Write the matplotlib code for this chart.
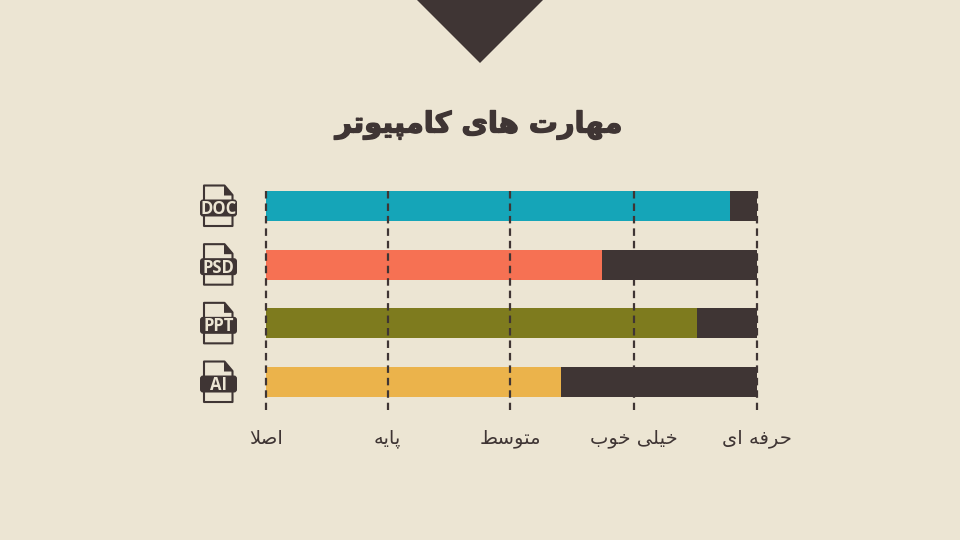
import matplotlib
matplotlib.use("Agg")
import matplotlib.pyplot as plt
import matplotlib.patheffects as pe
from matplotlib.patches import Polygon, FancyBboxPatch

# data
file_types = ["DOC", "PSD", "PPT", "AI"]
skill_values = [3.78, 2.74, 3.51, 2.40]
max_level = 4
level_ticks = [0, 0.99, 1.99, 2.995, 4]
level_names = ["اصلا", "پایه", "متوسط", "خیلی خوب", "حرفه ای"]
title_text = "مهارت های کامپیوتر"

# colors
bg = "#ECE5D3"
dark = "#3F3534"
bar_colors = ["#15A5B8", "#F67153", "#7E7B1E", "#EBB34B"]

# matplotlib does not join arabic letters, so pick the forms by hand
# letter: (isolated, final, initial, medial)
forms = {
    "ا": ("\uFE8D", "\uFE8E", None, None),
    "ب": ("\uFE8F", "\uFE90", "\uFE91", "\uFE92"),
    "پ": ("\uFB56", "\uFB57", "\uFB58", "\uFB59"),
    "ت": ("\uFE95", "\uFE96", "\uFE97", "\uFE98"),
    "ح": ("\uFEA1", "\uFEA2", "\uFEA3", "\uFEA4"),
    "خ": ("\uFEA5", "\uFEA6", "\uFEA7", "\uFEA8"),
    "ر": ("\uFEAD", "\uFEAE", None, None),
    "س": ("\uFEB1", "\uFEB2", "\uFEB3", "\uFEB4"),
    "ص": ("\uFEB9", "\uFEBA", "\uFEBB", "\uFEBC"),
    "ط": ("\uFEC1", "\uFEC2", "\uFEC3", "\uFEC4"),
    "ف": ("\uFED1", "\uFED2", "\uFED3", "\uFED4"),
    "ک": ("\uFB8E", "\uFB8F", "\uFB90", "\uFB91"),
    "ل": ("\uFEDD", "\uFEDE", "\uFEDF", "\uFEE0"),
    "م": ("\uFEE1", "\uFEE2", "\uFEE3", "\uFEE4"),
    "ه": ("\uFEE9", "\uFEEA", "\uFEEB", "\uFEEC"),
    "و": ("\uFEED", "\uFEEE", None, None),
    "ی": ("\uFBFC", "\uFBFD", "\uFBFE", "\uFBFF"),
}


def shape(text):
    text = text.replace("لا", "\uE000")
    out = []
    for i, c in enumerate(text):
        if c == " ":
            out.append(c)
            continue
        prev = text[i - 1] if i > 0 else " "
        nxt = text[i + 1] if i < len(text) - 1 else " "
        joins_prev = prev in forms and forms[prev][2] is not None
        if c == "\uE000":
            out.append("\uFEFC" if joins_prev else "\uFEFB")
            continue
        joins_next = forms[c][2] is not None and (nxt in forms or nxt == "\uE000")
        if joins_prev and joins_next:
            out.append(forms[c][3])
        elif joins_prev:
            out.append(forms[c][1])
        elif joins_next:
            out.append(forms[c][2])
        else:
            out.append(forms[c][0])
    return "".join(reversed(out))


W, H = 960, 540
fig = plt.figure(figsize=(W / 100, H / 100), dpi=100, facecolor=bg)

# pixel layer for the decoration
deco = fig.add_axes([0, 0, 1, 1])
deco.set_xlim(0, W)
deco.set_ylim(H, 0)
deco.axis("off")
deco.add_patch(Polygon([(417, 0), (543, 0), (480, 63)], closed=True, fc=dark, ec="none"))
title = deco.text(479, 125, shape(title_text), family="DejaVu Sans", weight="bold", fontsize=20.8,
                  color=dark, ha="center", va="center")
title.set_path_effects([pe.withStroke(linewidth=1.0, foreground=dark)])

# chart: 0..4 runs from x=266 to x=757, bars start at y=206 and step 58.67
left, right, top, bottom = 266, 757, 191, 410
ax = fig.add_axes([left / W, 1 - bottom / H, (right - left) / W, (bottom - top) / H])
ax.patch.set_alpha(0)
ax.set_xlim(0, max_level)
ax.set_ylim(3.477, -0.256)
ax.axis("off")

rows = list(range(len(file_types)))
ax.barh(rows, [max_level] * len(rows), height=0.51, color=dark)
ax.barh(rows, skill_values, height=0.51, color=bar_colors)
ax.vlines(level_ticks, -0.256, 3.477, colors=dark, linewidth=1.6,
          linestyles=(0, (3.38, 2.225)), clip_on=False, zorder=5)

for tick, name in zip(level_ticks, level_names):
    px = left + tick / max_level * (right - left)
    deco.text(px, 438, shape(name), family="DejaVu Sans", fontsize=14, color=dark,
              ha="center", va="center")

# file icons
for i, name in enumerate(file_types):
    cy = 206 + i * 58.67
    page = [(204, cy - 20.5), (224.5, cy - 20.5), (232.5, cy - 11), (232.5, cy + 20), (204, cy + 20)]
    deco.add_patch(Polygon(page, closed=True, fc="none", ec=dark, lw=1.5, joinstyle="round"))
    deco.add_patch(Polygon([(224, cy - 21), (233, cy - 10.5), (224, cy - 10.5)], closed=True, fc=dark, ec="none"))
    deco.add_patch(FancyBboxPatch((202, cy - 4.5), 33, 13, boxstyle="round,pad=2,rounding_size=3",
                                  fc=dark, ec="none", zorder=3))
    deco.text(218.5, cy + 3.0, name, family="Open Sans", weight="bold", fontsize=12, color=bg,
              ha="center", va="center", zorder=4)

fig.savefig("out.png", dpi=100, facecolor=bg)
